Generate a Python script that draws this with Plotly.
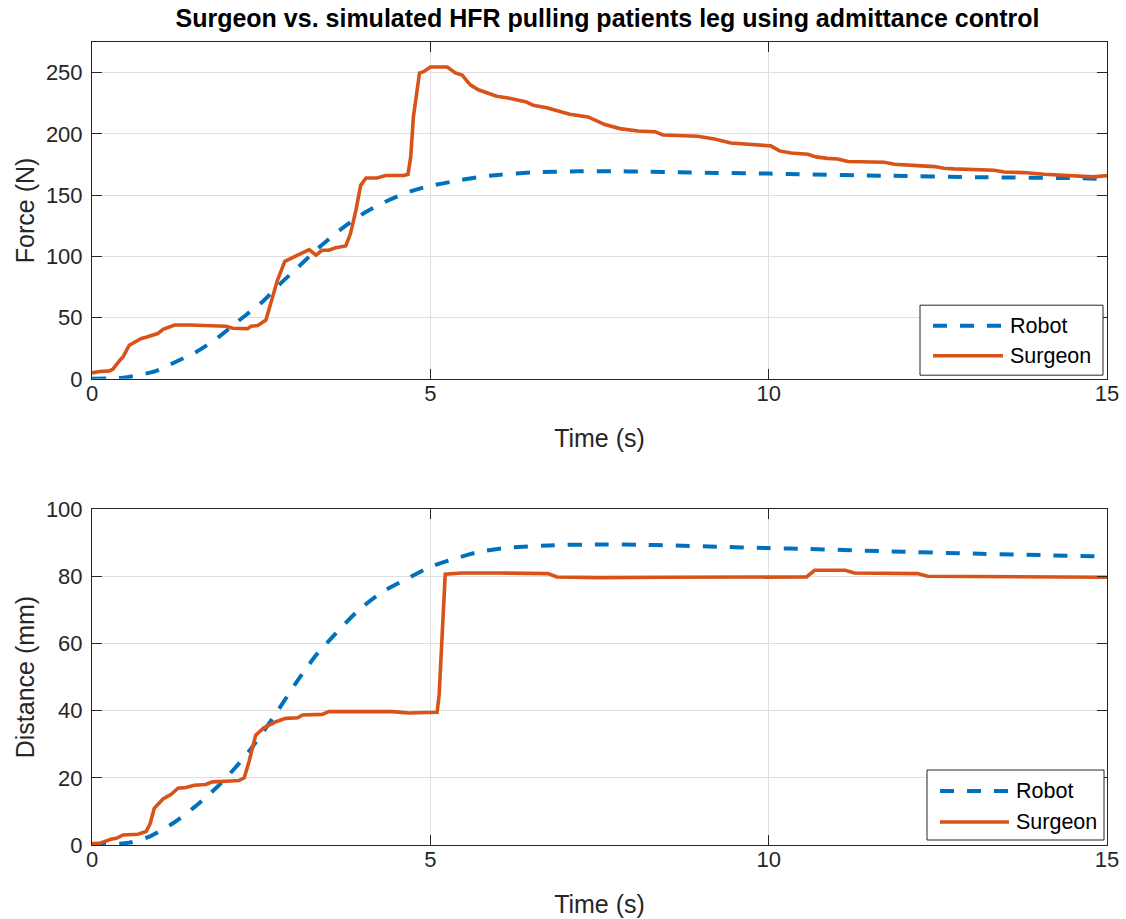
import plotly.graph_objects as go

# ---- data -------------------------------------------------------------
# Interaction force (N)
t_surgeon_force = [0.0, 0.11, 0.26, 0.31, 0.41, 0.46, 0.55, 0.6, 0.73, 0.8, 0.97, 1.05, 1.22, 1.44,
                   1.68, 1.98, 2.08, 2.3, 2.35, 2.45, 2.57, 2.64, 2.74, 2.85, 2.96, 3.06, 3.21, 3.31,
                   3.4, 3.5, 3.6, 3.75, 3.82, 3.9, 3.97, 4.05, 4.21, 4.34, 4.61, 4.67, 4.71, 4.75,
                   4.8, 4.84, 4.9, 5.0, 5.25, 5.37, 5.47, 5.59, 5.71, 5.86, 5.98, 6.15, 6.28, 6.42,
                   6.52, 6.72, 6.89, 7.06, 7.33, 7.43, 7.58, 7.8, 8.07, 8.32, 8.44, 8.95, 9.2, 9.44,
                   9.74, 10.03, 10.16, 10.33, 10.58, 10.7, 10.87, 11.02, 11.17, 11.71, 11.86, 12.1,
                   12.2, 12.45, 12.59, 12.74, 13.33, 13.48, 13.77, 14.07, 14.31, 14.61, 14.8, 15.0]
f_surgeon = [4.9, 6.0, 6.5, 8.0, 15.0, 18.0, 27.5, 29.0, 33.0, 34.0, 37.0, 40.5, 44.0, 44.0,
             43.5, 43.0, 41.3, 41.0, 43.0, 43.5, 48.0, 61.5, 80.5, 96.0, 99.0, 101.0, 105.5, 101.0,
             105.0, 105.0, 107.0, 108.5, 118.6, 137.6, 158.0, 164.0, 164.0, 166.0, 166.0, 167.0, 181.0, 214.0,
             235.6, 249.7, 250.8, 254.6, 254.6, 249.7, 248.0, 240.0, 236.0, 233.4, 230.7, 229.3, 227.4, 226.0,
             223.3, 221.4, 218.7, 216.0, 213.8, 211.6, 207.6, 204.3, 202.4, 201.8, 199.1, 198.0, 195.9, 192.6,
             191.2, 190.2, 186.1, 184.4, 183.4, 181.2, 180.0, 179.5, 177.4, 176.8, 175.2, 174.9,
             174.1, 173.3, 171.9, 171.4, 170.3, 168.9, 168.4, 167.0, 166.2, 165.9, 164.9, 165.9]

t_robot_force = [0.0, 0.46, 0.6, 0.95, 1.24, 1.54, 1.88, 2.18, 2.52, 2.77, 3.06, 3.35, 3.7, 4.04,
                 4.39, 4.73, 5.0, 5.32, 5.69, 6.0, 6.5, 7.19, 7.68, 8.17, 8.66, 9.25, 10.0, 10.43,
                 11.66, 13.13, 14.6, 15.0]
f_robot = [0.0, 1.0, 2.2, 6.5, 14.0, 22.0, 34.5, 48.0, 63.0, 77.0, 92.0, 107.0, 123.0, 136.0,
           146.0, 153.5, 157.5, 161.0, 164.5, 166.5, 168.5, 169.5, 169.5, 169.2, 168.7, 168.1, 167.6, 167.0,
           165.9, 164.6, 163.8, 163.0]

# Displacement (mm)
t_surgeon_dist = [0.0, 0.11, 0.28, 0.36, 0.46, 0.68, 0.8, 0.86, 0.92, 1.05, 1.17, 1.27, 1.39, 1.51,
                  1.68, 1.78, 1.98, 2.17, 2.25, 2.32, 2.42, 2.54, 2.72, 2.86, 3.04, 3.11, 3.4, 3.5,
                  4.44, 4.68, 5.1, 5.13, 5.22, 5.47, 6.0, 6.74, 6.87, 7.48, 8.46, 10.0, 10.56, 10.68,
                  11.13, 11.27, 12.2, 12.35, 13.63, 15.0]
d_surgeon = [0.4, 0.5, 1.7, 2.0, 3.0, 3.2, 4.0, 6.4, 10.9, 13.7, 15.1, 16.9, 17.1, 17.8,
             18.0, 18.8, 19.0, 19.2, 20.0, 24.8, 32.7, 34.9, 36.7, 37.7, 37.9, 38.7, 38.9, 39.7,
             39.7, 39.3, 39.5, 44.6, 80.6, 81.0, 81.0, 80.8, 79.8, 79.6, 79.7, 79.6, 79.8, 81.8,
             81.8, 81.0, 80.8, 80.0, 79.8, 79.7]

t_robot_dist = [0.0, 0.55, 0.85, 1.19, 1.49, 1.83, 2.13, 2.37, 2.72, 3.01, 3.31, 3.6, 3.94, 4.29,
                4.63, 5.0, 5.37, 5.71, 6.1, 6.74, 7.58, 8.07, 8.56, 9.25, 10.0, 10.43, 11.66, 13.13, 15.0]
d_robot = [0.0, 0.7, 2.5, 6.4, 10.9, 16.9, 23.3, 29.2, 39.2, 48.1, 56.5, 62.9, 69.9, 75.3,
           79.0, 82.8, 85.3, 87.2, 88.4, 89.2, 89.5, 89.4, 89.2, 88.8, 88.4, 88.2, 87.5, 86.7, 85.9]

series_names = ["Robot", "Surgeon"]
x_ticks = [0, 5, 10, 15]
force_ticks = [0, 50, 100, 150, 200, 250]
dist_ticks = [0, 20, 40, 60, 80, 100]

# ---- styling ----------------------------------------------------------
W, H = 1126, 919
FONT = "Liberation Sans, Arial, Helvetica, sans-serif"
AX = "#262626"
GRID = "#dfdfdf"
BLUE = "#0072BD"
ORANGE = "#D95319"
ROBOT_DASH = "14px,13px"

# plot-area pixel frame
L, R, T, B = 92, 1107, 41.7, 845
top_y0, top_y1 = 41.7, 378.7
bot_y0, bot_y1 = 509, 845


def px(x):
    # pixel column -> paper fraction (paper spans the plot area)
    return (x - L) / (R - L)


def py(y):
    # pixel row -> paper fraction
    return (B - y) / (B - T)


def dom(y_top, y_bot):
    return [py(y_bot), py(y_top)]


fig = go.Figure()

fig.add_trace(go.Scatter(x=t_robot_force, y=f_robot, mode="lines", name=series_names[0],
                         line=dict(color=BLUE, width=4, dash=ROBOT_DASH, shape="spline", smoothing=0.8),
                         xaxis="x", yaxis="y", showlegend=False))
fig.add_trace(go.Scatter(x=t_surgeon_force, y=f_surgeon, mode="lines", name=series_names[1],
                         line=dict(color=ORANGE, width=3.6), xaxis="x", yaxis="y", showlegend=False))
fig.add_trace(go.Scatter(x=t_robot_dist, y=d_robot, mode="lines", name=series_names[0],
                         line=dict(color=BLUE, width=4, dash=ROBOT_DASH, shape="spline", smoothing=0.8),
                         xaxis="x2", yaxis="y2", showlegend=False))
fig.add_trace(go.Scatter(x=t_surgeon_dist, y=d_surgeon, mode="lines", name=series_names[1],
                         line=dict(color=ORANGE, width=3.6), xaxis="x2", yaxis="y2", showlegend=False))

common_axis = dict(
    showline=True, linecolor=AX, linewidth=1, mirror="ticks",
    ticks="inside", ticklen=10, tickcolor=AX, tickwidth=1,
    showgrid=True, gridcolor=GRID, gridwidth=1, zeroline=False, automargin=False,
    tickfont=dict(family=FONT, size=22, color=AX),
)
xtitle = dict(text="Time (s)", font=dict(family=FONT, size=25, color=AX), standoff=24)

fig.update_layout(
    width=W, height=H, autosize=False,
    margin=dict(l=L, r=W - R, t=T, b=H - B),
    paper_bgcolor="white", plot_bgcolor="white",
    xaxis=dict(domain=[0, 1], range=[0, 15], tickvals=x_ticks, anchor="y",
               ticklabelstandoff=-5, title=xtitle, **common_axis),
    yaxis=dict(domain=dom(top_y0, top_y1), range=[0, 275], tickvals=force_ticks, anchor="x",
               ticklabelstandoff=4,
               title=dict(text="Force (N)", font=dict(family=FONT, size=25, color=AX), standoff=4),
               **common_axis),
    xaxis2=dict(domain=[0, 1], range=[0, 15], tickvals=x_ticks, anchor="y2",
                ticklabelstandoff=-5, title=xtitle, **common_axis),
    yaxis2=dict(domain=dom(bot_y0, bot_y1), range=[0, 100], tickvals=dist_ticks, anchor="x2",
                ticklabelstandoff=4,
                title=dict(text="Distance (mm)", font=dict(family=FONT, size=25, color=AX), standoff=4),
                **common_axis),
    title=dict(text="<b>Surgeon vs. simulated HFR pulling patients leg using admittance control</b>",
               font=dict(family=FONT, size=25, color="black"),
               x=607.5 / W, xanchor="center", xref="container",
               y=1 - 18 / H, yanchor="middle", yref="container"),
)

# ---- legends (one per panel) -------------------------------------------
shapes = []
annotations = []


def legend_box(x0, x1, y0, y1, row_y, sample_x0, sample_x1, text_x):
    shapes.append(dict(type="rect", xref="paper", yref="paper",
                       x0=px(x0), x1=px(x1), y0=py(y1), y1=py(y0),
                       line=dict(color=AX, width=1), fillcolor="white", layer="above"))
    styles = [dict(color=BLUE, width=4, dash=ROBOT_DASH), dict(color=ORANGE, width=3.6)]
    for name, ry, st in zip(series_names, row_y, styles):
        shapes.append(dict(type="line", xref="paper", yref="paper",
                           x0=px(sample_x0), x1=px(sample_x1), y0=py(ry), y1=py(ry),
                           line=st, layer="above"))
        annotations.append(dict(text=name, xref="paper", yref="paper", x=px(text_x), y=py(ry),
                                xanchor="left", yanchor="middle", showarrow=False,
                                font=dict(family=FONT, size=21.5, color="black")))


legend_box(920, 1103, 305, 375, [325.5, 355.5], 933, 1003, 1008)
legend_box(927, 1104, 770, 840, [791, 822], 940, 1009, 1014)

fig.update_layout(shapes=shapes, annotations=annotations)

fig.write_html("out.html")
